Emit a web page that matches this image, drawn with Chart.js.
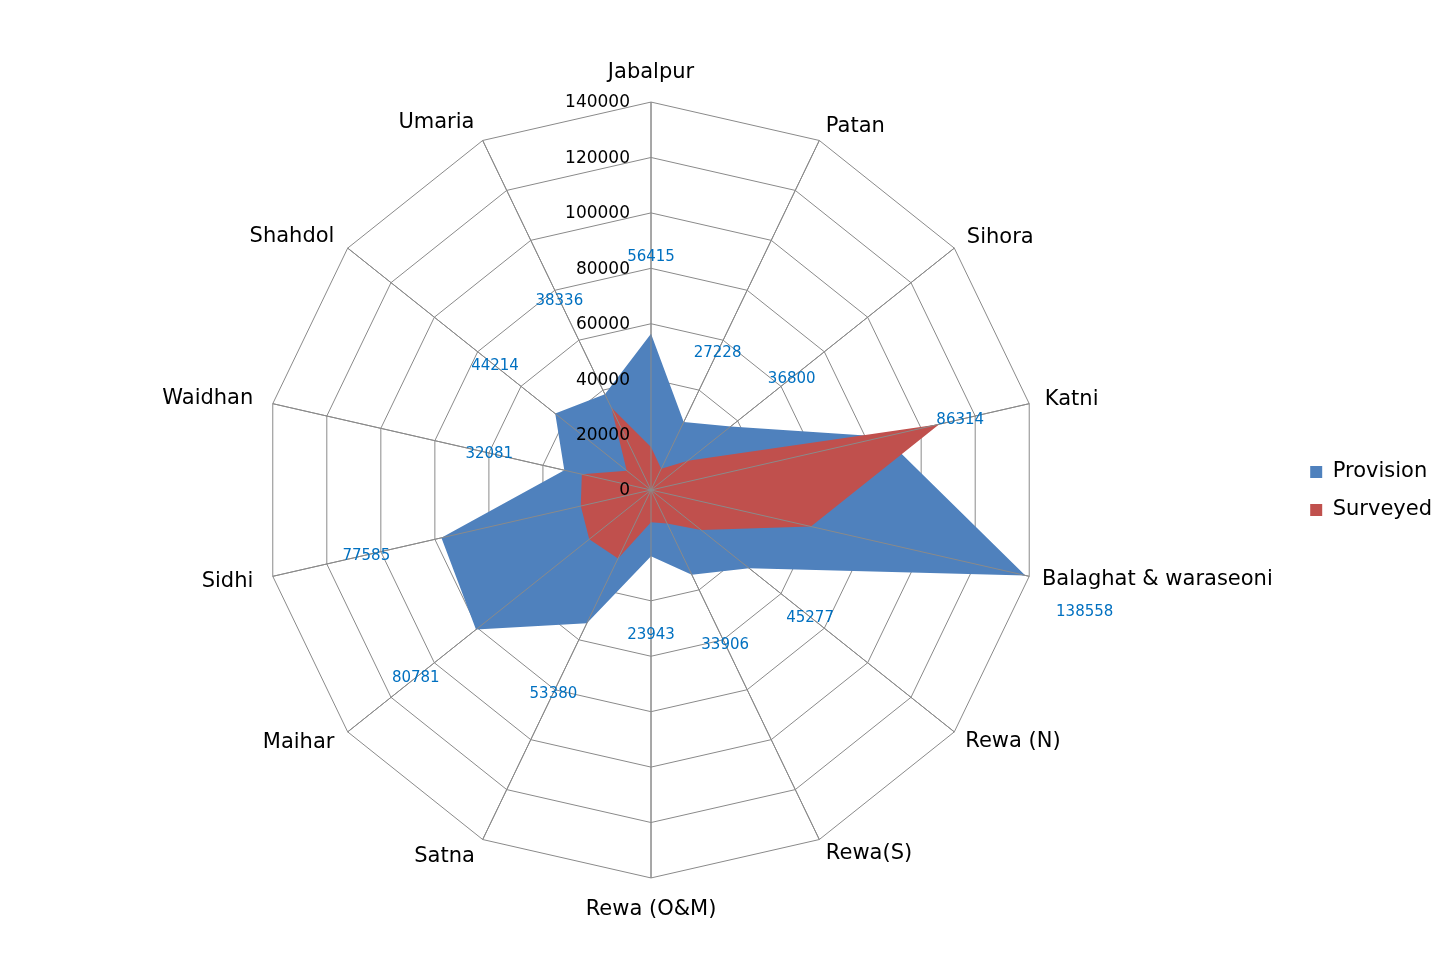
<!DOCTYPE html>
<html>
<head>
<meta charset="utf-8">
<script src="https://cdn.jsdelivr.net/npm/chart.js@4"></script>
<style>
  html, body { margin: 0; padding: 0; background: #ffffff; }
  #wrap { width: 1448px; height: 979px; position: relative; }
</style>
</head>
<body>
<div id="wrap"><canvas id="c"></canvas></div>
<script>
const categories = ['Jabalpur', 'Patan', 'Sihora', 'Katni', 'Balaghat & waraseoni', 'Rewa (N)', 'Rewa(S)', 'Rewa (O&M)', 'Satna', 'Maihar', 'Sidhi', 'Waidhan', 'Shahdol', 'Umaria'];
const provision = [56415, 27228, 36800, 86314, 138558, 45277, 33906, 23943, 53380, 80781, 77585, 32081, 44214, 38336];
const surveyed = [15500, 8500, 17000, 106700, 59200, 23100, 13400, 11600, 27400, 28500, 26000, 25600, 11200, 33000];
const tickLabels = ['0', '20000', '40000', '60000', '80000', '100000', '120000', '140000'];

const GRID = '#8a8a8a';
const FONT = '"DejaVu Sans", Verdana, sans-serif';
const pointLabelPad = [29, 15, 16, 16, 13, 14, 15, 31, 18, 17, 20, 20, 17, 19];
const dataLabelOffset = [78, 78, 78, 78, 66, 78, 77, 78, 77, 77, 77, 77, 77, 105];

const overlay = {
  id: 'overlay',
  afterDatasetsDraw(chart) {
    const s = chart.scales.r;
    const ctx = chart.ctx;
    ctx.save();
    ctx.strokeStyle = GRID;
    ctx.lineWidth = 1;
    ctx.beginPath();
    for (let i = 0; i < categories.length; i++) {
      const p = s.getPointPositionForValue(i, s.max);
      ctx.moveTo(s.xCenter, s.yCenter);
      ctx.lineTo(p.x, p.y);
    }
    ctx.stroke();
    ctx.font = '17px ' + FONT;
    ctx.fillStyle = '#000000';
    ctx.textAlign = 'right';
    ctx.textBaseline = 'middle';
    s.ticks.forEach(t => {
      const d = s.getDistanceFromCenterForValue(t.value);
      ctx.fillText(t.label, s.xCenter - 21, s.yCenter - d + 1);
    });
    ctx.font = '15px ' + FONT;
    ctx.fillStyle = '#0070C0';
    ctx.textAlign = 'center';
    provision.forEach((v, i) => {
      const d = s.getDistanceFromCenterForValue(v) + dataLabelOffset[i];
      const ang = s.getIndexAngle(i) - Math.PI / 2;
      let x = s.xCenter + Math.cos(ang) * d;
      let y = s.yCenter + Math.sin(ang) * d;
      if (i === 4) { x -= 5; y += 21; }
      ctx.fillText(String(v), x, y + 1);
    });
    ctx.restore();
  }
};

new Chart(document.getElementById('c'), {
  type: 'radar',
  data: {
    labels: categories,
    datasets: [
      {
        label: 'Provision',
        data: provision,
        backgroundColor: '#4F81BD',
        borderColor: '#4F81BD',
        borderWidth: 0,
        pointRadius: 0,
        pointHoverRadius: 0,
        fill: 'origin',
        tension: 0,
        order: 2
      },
      {
        label: 'Surveyed',
        data: surveyed,
        backgroundColor: '#C0504D',
        borderColor: '#C0504D',
        borderWidth: 0,
        pointRadius: 0,
        pointHoverRadius: 0,
        fill: 'origin',
        tension: 0,
        order: 1
      }
    ]
  },
  options: {
    responsive: true,
    maintainAspectRatio: false,
    animation: false,
    layout: { padding: { left: 33, right: 6, top: 71, bottom: 68 } },
    plugins: {
      tooltip: { enabled: false },
      legend: {
        position: 'right',
        labels: {
          boxWidth: 12,
          boxHeight: 12,
          padding: 17,
          color: '#000000',
          font: { family: FONT, size: 21 },
          sort: (a, b) => a.datasetIndex - b.datasetIndex
        }
      }
    },
    scales: {
      r: {
        min: 0,
        max: 140000,
        ticks: {
          stepSize: 20000,
          display: false,
          callback: (v, i) => tickLabels[i]
        },
        grid: { color: GRID, lineWidth: 1 },
        angleLines: { display: true, color: GRID, lineWidth: 1 },
        pointLabels: {
          color: '#000000',
          font: { family: FONT, size: 21, lineHeight: 0.05 },
          padding: (ctx) => pointLabelPad[ctx.index]
        }
      }
    }
  },
  plugins: [overlay]
});
</script>
</body>
</html>
